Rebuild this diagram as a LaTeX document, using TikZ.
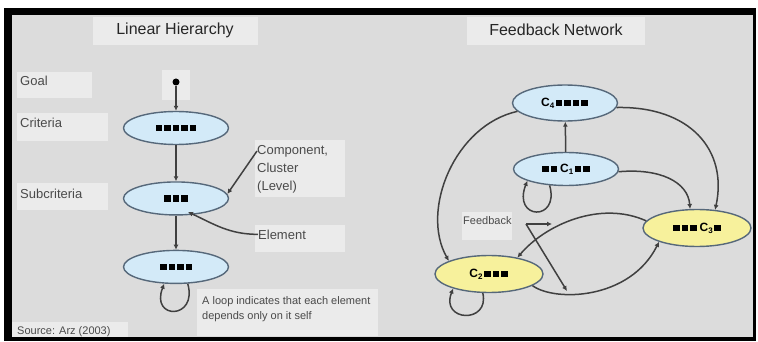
\documentclass[tikz,border=0pt]{standalone}
\usepackage{fontspec}
\setmainfont{Liberation Sans}
\usetikzlibrary{positioning, shapes.geometric, arrows.meta}

\definecolor{panel}{HTML}{DCDCDC}
\definecolor{boxgray}{HTML}{EBEBEB}
\definecolor{txtgray}{HTML}{4A4A4A}
\definecolor{linegray}{HTML}{404040}
\definecolor{cblue}{HTML}{D3EAF8}
\definecolor{cyellow}{HTML}{F7F19C}
\definecolor{rimgray}{HTML}{56687A}

% little black squares inside the clusters
\newcommand{\bx}{\kern1pt\rule{6.5pt}{6.5pt}\kern1pt}
\newcommand{\cl}[1]{\textbf{C}\textsubscript{\textbf{#1}}}

\tikzset{
  ell/.style={ellipse, draw=rimgray, line width=1.4pt, fill=cblue,
    minimum width=105pt, minimum height=33pt, inner sep=0pt,
    font=\fontsize{12}{14}\selectfont\bfseries},
  ellY/.style={ell, fill=cyellow, minimum width=108pt, minimum height=37pt},
  head/.style={inner sep=0pt, text=black!85, font=\fontsize{16}{18}\selectfont},
  lbl/.style={anchor=base west, inner sep=0pt, text=txtgray, font=\fontsize{13}{18}\selectfont},
  note/.style={anchor=north west, inner sep=0pt, text=txtgray, align=left},
  conn/.style={draw=linegray, line width=1.5pt, -{Latex[length=5pt,width=5pt]}},
}

\begin{document}
\begin{tikzpicture}[x=1pt, y=-1pt]
  \useasboundingbox (0,0) rectangle (758,342);

  % frame
  \fill[black] (4,8) rectangle (756,341);
  \fill[panel] (12,15) rectangle (753,337);

  % light boxes behind the labels
  \foreach \xa/\ya/\xb/\yb in {93/17/258/45, 467/17/645/45, 17/72/92/98,
      162/70/190/100, 17/113/108/141, 17/183/108/210, 255/140/345/197,
      255/225/345/252, 197/289/378/336, 12/322/128/337, 462/212/512/240}
    \fill[boxgray] (\xa,\ya) rectangle (\xb,\yb);

  \node[head] (lh) at (175,30) {Linear Hierarchy};
  \node[head] (fn) at (556,30) {Feedback Network};

  % left: levels
  \node[lbl] (goal-l) at (20,86) {Goal};
  \node[lbl] (crit-l) at (20,128) {Criteria};
  \node[lbl] (sub-l) at (20,198) {Subcriteria};

  \node[circle, fill=black, inner sep=0pt, minimum size=7pt] (goal) at (176,82) {};
  \node[ell] (crit) at (176,128) {\bx\bx\bx\bx\bx};
  \node[ell, below of=crit, yshift=-42pt] (sub) {\bx\bx\bx};
  \node[ell, below of=sub, yshift=-40pt] (low) {\bx\bx\bx\bx};

  \draw[conn] (goal) -- (crit);
  \draw[conn] (crit) -- (sub);
  \draw[conn] (sub) -- (low);
  \draw[conn] (low.305) .. controls (198,320) and (150,320) .. (low.235);

  \node[note, font=\fontsize{13}{18}\selectfont] (comp) at (257,145)
    {Component,\\Cluster\\(Level)};
  \node[lbl] (elem) at (258,239) {Element};
  \coordinate (elt) at (188,212);
  \draw[conn] ([yshift=-6pt]comp.north west) -- (sub.5);
  \draw[conn] (elem.west) to[out=180, in=-25] (elt);

  \node[note, font=\fontsize{11}{15}\selectfont] (loopnote) at (202,296)
    {A loop indicates that each element\\depends only on it self};
  \node[lbl, font=\fontsize{11}{13}\selectfont] (src) at (17,334) {Source: Arz (2003)};

  % right: clusters with feedback
  \node[ell, minimum height=36pt] (c4) at (565,103) {\cl{4}\bx\bx\bx\bx};
  \node[ell] (c1) at (566,169) {\bx\bx\,\cl{1}\bx\bx};
  \node[ellY] (c3) at (697,228) {\bx\bx\bx\,\cl{3}\bx};
  \node[ellY] (c2) at (489,274) {\cl{2}\bx\bx\bx};

  \draw[conn] (c1) -- (c4);
  \draw[conn] (c4.-5) .. controls (690,106) and (728,150) .. (c3.45);
  \draw[conn] (c4.190) .. controls (455,125) and (420,210) .. (c2.162);
  \draw[conn] (c1.-3) .. controls (660,168) and (688,182) .. (c3.110);
  \draw[conn] (c1.225) .. controls (560,222) and (512,220) .. (c1.197);
  \draw[conn] (c3.172) .. controls (600,200) and (545,225) .. (c2.30);
  \draw[conn] (c2.-15) .. controls (555,302) and (630,300) .. (c3.200);
  \draw[conn] (c2.252) .. controls (490,324) and (440,322) .. (c2.202);

  \node[lbl, font=\fontsize{11}{13}\selectfont] (fb) at (463,224) {Feedback};
  \coordinate (fbsrc) at (526,224);
  \coordinate (fbtop) at (552,224);
  \coordinate (fbbot) at (567,291);
  \draw[conn] (fbsrc) -- (fbtop);
  \draw[conn] (fbsrc) -- (fbbot);
\end{tikzpicture}
\end{document}
